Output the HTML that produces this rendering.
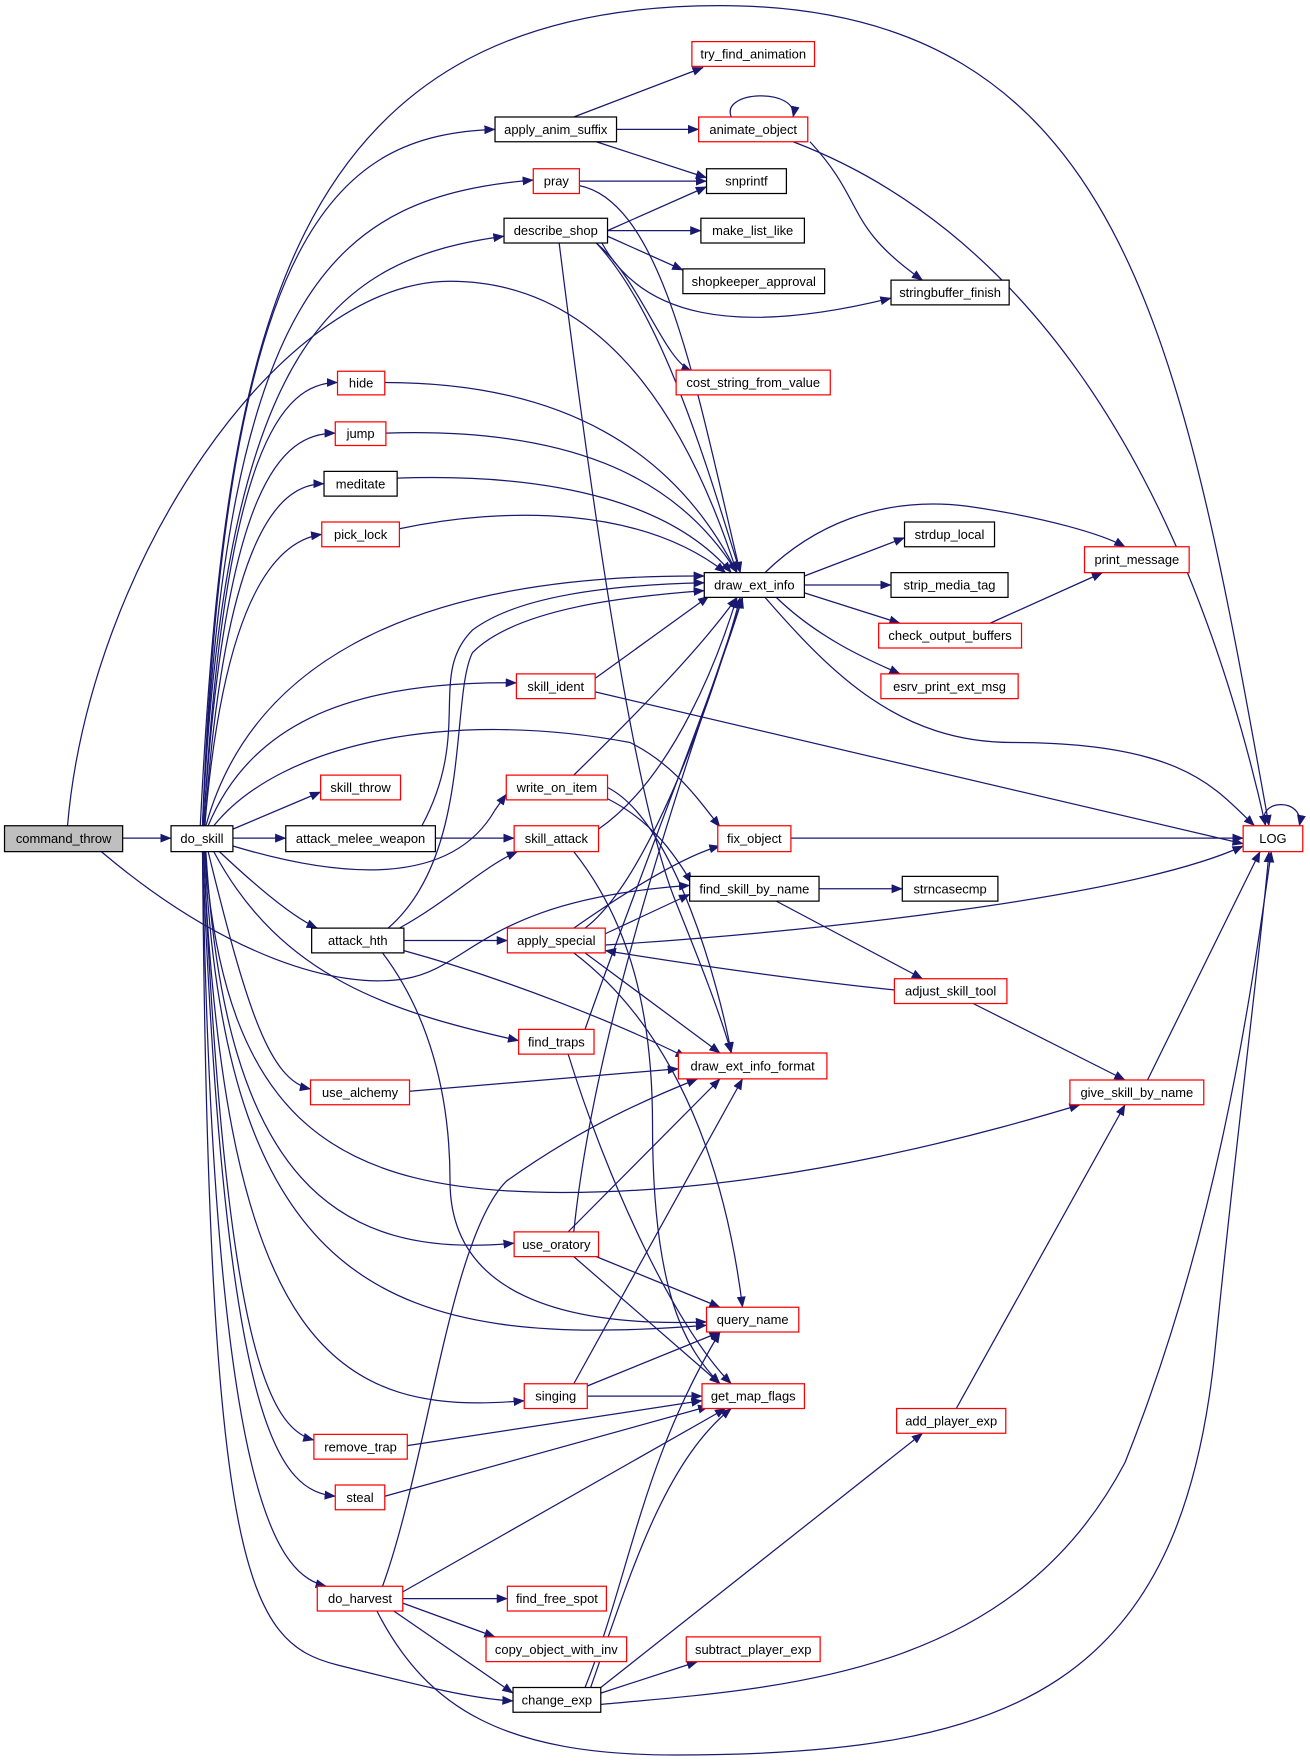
<!DOCTYPE html>
<html><head><meta charset="utf-8"><style>
html,body{margin:0;padding:0;background:#fff;}
svg{display:block;}
text{font-family:"Liberation Sans",sans-serif;font-size:11.5px;fill:#000;}
.e{fill:none;stroke:#191970;stroke-width:1.1;marker-end:url(#a);}
.b{fill:#fff;stroke:#000;stroke-width:1.1;}
.r{fill:#fff;stroke:#ff0000;stroke-width:1.1;}
</style></head><body>
<svg width="1310" height="1764" viewBox="0 0 1164.4 1568" xmlns="http://www.w3.org/2000/svg">
<defs><marker id="a" markerWidth="10" markerHeight="8" refX="9.5" refY="4" orient="auto" markerUnits="userSpaceOnUse"><path d="M0,0 L10,4 L0,8 z" fill="#191970"/></marker></defs>
<g>
<path class="e" d="M109,745 L152,745"/>
<path class="e" d="M60,734 C80,500 250,250 400,250 C550,250 620,400 655,509"/>
<path class="e" d="M90,757 C200,850 300,880 360,870 C420,860 430,800 613,787"/>
<path class="e" d="M178,734 C200,300 250,5 640,5 C1000,5 1050,300 1128,734"/>
<path class="e" d="M180,734 C200,200 300,120 440,115"/>
<path class="e" d="M180,734 C200,250 300,175 474,160"/>
<path class="e" d="M180,734 C200,300 300,230 448,210"/>
<path class="e" d="M181,734 C200,400 250,340 300,340"/>
<path class="e" d="M181,734 C200,430 250,385 298,385"/>
<path class="e" d="M182,734 C200,470 250,430 288,430"/>
<path class="e" d="M182,734 C200,520 250,480 286,475"/>
<path class="e" d="M183,734 C220,600 350,510 626,512"/>
<path class="e" d="M185,734 C220,650 300,605 459,607"/>
<path class="e" d="M190,734 C250,660 400,630 560,660 C600,680 620,710 640,735"/>
<path class="e" d="M207,737 L285,704"/>
<path class="e" d="M207,745 L254,745"/>
<path class="e" d="M207,752 C300,780 400,790 440,720 L450,706"/>
<path class="e" d="M195,757 C230,790 260,815 282,825"/>
<path class="e" d="M190,757 C250,870 350,900 461,925"/>
<path class="e" d="M185,757 C220,900 240,960 276,968"/>
<path class="e" d="M182,757 C200,1000 300,1060 500,1060 C700,1060 900,1000 960,982"/>
<path class="e" d="M183,757 C200,1050 300,1120 457,1105"/>
<path class="e" d="M182,757 C200,1150 350,1200 628,1178"/>
<path class="e" d="M181,757 C200,1200 300,1260 466,1245"/>
<path class="e" d="M181,757 C200,1200 240,1270 279,1280"/>
<path class="e" d="M180,757 C200,1280 250,1325 298,1330"/>
<path class="e" d="M180,757 C190,1350 250,1400 290,1410"/>
<path class="e" d="M180,757 C185,1400 220,1460 300,1480 C380,1500 420,1510 456,1512"/>
<path class="e" d="M335,1432 C380,1520 450,1560 600,1560 C900,1560 1050,1500 1080,1200 C1100,1000 1120,850 1128,757"/>
<path class="e" d="M375,734 C420,650 380,600 420,560 C460,530 540,520 626,518"/>
<path class="e" d="M387,745 L457,745"/>
<path class="e" d="M345,825 C420,760 400,620 420,580 C460,540 560,530 626,525"/>
<path class="e" d="M355,825 C400,800 430,770 460,757"/>
<path class="e" d="M359,836 L451,836"/>
<path class="e" d="M359,845 C450,870 550,910 610,940"/>
<path class="e" d="M340,847 C380,900 400,970 400,1050 C400,1150 500,1180 628,1175"/>
<path class="e" d="M510,689 C560,640 620,580 655,531"/>
<path class="e" d="M540,710 C580,730 600,760 615,785"/>
<path class="e" d="M540,700 C600,730 640,880 650,936"/>
<path class="e" d="M529,603 L630,530"/>
<path class="e" d="M529,615 L1105,750"/>
<path class="e" d="M532,737 C600,690 640,580 655,531"/>
<path class="e" d="M510,757 C560,820 580,900 580,1000 C580,1150 610,1200 640,1230"/>
<path class="e" d="M510,825 C560,790 610,760 640,752"/>
<path class="e" d="M538,830 L613,795"/>
<path class="e" d="M538,840 C700,830 1000,800 1105,752"/>
<path class="e" d="M520,847 L640,936"/>
<path class="e" d="M510,847 C580,900 640,1000 660,1162"/>
<path class="e" d="M520,825 C580,780 640,600 658,531"/>
<path class="e" d="M520,915 C560,800 640,600 660,531"/>
<path class="e" d="M505,937 C540,1050 600,1180 650,1230"/>
<path class="e" d="M540,205 L628,166"/>
<path class="e" d="M540,205 L623,205"/>
<path class="e" d="M540,210 L607,240"/>
<path class="e" d="M535,216 C570,280 650,300 792,265"/>
<path class="e" d="M530,216 C570,250 590,320 615,330"/>
<path class="e" d="M530,216 C590,280 630,420 658,509"/>
<path class="e" d="M497,216 C520,400 560,700 600,800 C620,850 640,900 650,936"/>
<path class="e" d="M510,104 L625,60"/>
<path class="e" d="M548,115 L621,115"/>
<path class="e" d="M530,126 L628,158"/>
<path class="e" d="M515,161 L628,161"/>
<path class="e" d="M515,165 C590,180 620,350 658,509"/>
<path class="e" d="M650,104 C640,80 710,78 705,104"/>
<path class="e" d="M705,126 C900,200 1050,400 1125,734"/>
<path class="e" d="M720,126 C770,180 750,200 820,249"/>
<path class="e" d="M342,340 C500,340 600,400 655,509"/>
<path class="e" d="M343,385 C500,380 600,420 655,509"/>
<path class="e" d="M353,425 C500,420 600,450 650,509"/>
<path class="e" d="M355,470 C450,450 570,450 645,509"/>
<path class="e" d="M680,509 C720,470 780,440 860,450 C930,460 980,475 1000,486"/>
<path class="e" d="M715,512 L804,478"/>
<path class="e" d="M715,520 L792,520"/>
<path class="e" d="M715,527 L800,554"/>
<path class="e" d="M690,531 C730,570 780,590 800,599"/>
<path class="e" d="M680,531 C740,600 800,660 900,660 C1050,660 1080,700 1115,734"/>
<path class="e" d="M880,554 L980,509"/>
<path class="e" d="M1125,734 C1115,710 1160,708 1155,734"/>
<path class="e" d="M703,745 L1105,745"/>
<path class="e" d="M728,790 L802,790"/>
<path class="e" d="M690,801 L820,870"/>
<path class="e" d="M795,880 C700,870 600,855 538,845"/>
<path class="e" d="M865,892 L1000,960"/>
<path class="e" d="M1020,960 L1120,757"/>
<path class="e" d="M364,970 L603,950"/>
<path class="e" d="M510,1095 C530,900 620,650 660,531"/>
<path class="e" d="M505,1095 L640,959"/>
<path class="e" d="M530,1117 L640,1162"/>
<path class="e" d="M510,1117 L640,1230"/>
<path class="e" d="M510,1230 L660,959"/>
<path class="e" d="M522,1232 L640,1184"/>
<path class="e" d="M522,1241 L624,1241"/>
<path class="e" d="M362,1285 L624,1245"/>
<path class="e" d="M342,1330 L630,1250"/>
<path class="e" d="M340,1410 C380,1300 400,1100 450,1050 C520,1000 580,975 620,959"/>
<path class="e" d="M358,1415 L645,1252"/>
<path class="e" d="M358,1421 L451,1421"/>
<path class="e" d="M358,1425 L440,1455"/>
<path class="e" d="M350,1432 L456,1505"/>
<path class="e" d="M520,1500 C560,1400 570,1300 640,1184"/>
<path class="e" d="M525,1500 C560,1400 590,1300 650,1252"/>
<path class="e" d="M534,1505 L620,1477"/>
<path class="e" d="M534,1500 L820,1274"/>
<path class="e" d="M534,1515 C700,1500 900,1490 1000,1300 C1080,1100 1110,900 1130,757"/>
<path class="e" d="M850,1252 L1000,982"/>
</g>
<g>
<rect x="4" y="734" width="105" height="23" fill="#bfbfbf" stroke="#000" stroke-width="1.1"/><text x="56.5" y="749.5" text-anchor="middle">command_throw</text>
<rect class="b" x="152" y="734" width="55" height="23"/><text x="179.5" y="749.5" text-anchor="middle">do_skill</text>
<rect class="r" x="300" y="330" width="42" height="21"/><text x="321" y="344.5" text-anchor="middle">hide</text>
<rect class="r" x="298" y="375" width="45" height="21"/><text x="320.5" y="389.5" text-anchor="middle">jump</text>
<rect class="b" x="288" y="419" width="65" height="22"/><text x="320.5" y="434" text-anchor="middle">meditate</text>
<rect class="r" x="286" y="464" width="69" height="22"/><text x="320.5" y="479" text-anchor="middle">pick_lock</text>
<rect class="r" x="285" y="689" width="71" height="22"/><text x="320.5" y="704" text-anchor="middle">skill_throw</text>
<rect class="b" x="254" y="734" width="133" height="23"/><text x="320.5" y="749.5" text-anchor="middle">attack_melee_weapon</text>
<rect class="b" x="277" y="825" width="82" height="22"/><text x="318" y="840" text-anchor="middle">attack_hth</text>
<rect class="r" x="276" y="960" width="88" height="22"/><text x="320" y="975" text-anchor="middle">use_alchemy</text>
<rect class="r" x="279" y="1275" width="83" height="22"/><text x="320.5" y="1290" text-anchor="middle">remove_trap</text>
<rect class="r" x="298" y="1320" width="44" height="22"/><text x="320" y="1335" text-anchor="middle">steal</text>
<rect class="r" x="282" y="1410" width="76" height="22"/><text x="320" y="1425" text-anchor="middle">do_harvest</text>
<rect class="b" x="440" y="104" width="108" height="22"/><text x="494" y="119" text-anchor="middle">apply_anim_suffix</text>
<rect class="r" x="474" y="150" width="41" height="22"/><text x="494.5" y="165" text-anchor="middle">pray</text>
<rect class="b" x="448" y="194" width="92" height="22"/><text x="494" y="209" text-anchor="middle">describe_shop</text>
<rect class="r" x="459" y="599" width="70" height="22"/><text x="494" y="614" text-anchor="middle">skill_ident</text>
<rect class="r" x="450" y="689" width="90" height="22"/><text x="495" y="704" text-anchor="middle">write_on_item</text>
<rect class="r" x="457" y="734" width="75" height="23"/><text x="494.5" y="749.5" text-anchor="middle">skill_attack</text>
<rect class="r" x="451" y="825" width="87" height="22"/><text x="494.5" y="840" text-anchor="middle">apply_special</text>
<rect class="r" x="461" y="915" width="67" height="22"/><text x="494.5" y="930" text-anchor="middle">find_traps</text>
<rect class="r" x="457" y="1095" width="75" height="22"/><text x="494.5" y="1110" text-anchor="middle">use_oratory</text>
<rect class="r" x="466" y="1230" width="56" height="22"/><text x="494" y="1245" text-anchor="middle">singing</text>
<rect class="r" x="451" y="1410" width="88" height="22"/><text x="495" y="1425" text-anchor="middle">find_free_spot</text>
<rect class="r" x="432" y="1455" width="125" height="22"/><text x="494.5" y="1470" text-anchor="middle">copy_object_with_inv</text>
<rect class="b" x="456" y="1500" width="78" height="22"/><text x="495" y="1515" text-anchor="middle">change_exp</text>
<rect class="r" x="615" y="37" width="109" height="22"/><text x="669.5" y="52" text-anchor="middle">try_find_animation</text>
<rect class="r" x="621" y="104" width="97" height="22"/><text x="669.5" y="119" text-anchor="middle">animate_object</text>
<rect class="b" x="628" y="150" width="71" height="22"/><text x="663.5" y="165" text-anchor="middle">snprintf</text>
<rect class="b" x="623" y="194" width="92" height="22"/><text x="669" y="209" text-anchor="middle">make_list_like</text>
<rect class="b" x="607" y="239" width="126" height="22"/><text x="670" y="254" text-anchor="middle">shopkeeper_approval</text>
<rect class="r" x="601" y="329" width="137" height="22"/><text x="669.5" y="344" text-anchor="middle">cost_string_from_value</text>
<rect class="b" x="626" y="509" width="89" height="22"/><text x="670.5" y="524" text-anchor="middle">draw_ext_info</text>
<rect class="r" x="638" y="734" width="65" height="23"/><text x="670.5" y="749.5" text-anchor="middle">fix_object</text>
<rect class="b" x="613" y="779" width="115" height="22"/><text x="670.5" y="794" text-anchor="middle">find_skill_by_name</text>
<rect class="r" x="603" y="936" width="132" height="23"/><text x="669" y="951.5" text-anchor="middle">draw_ext_info_format</text>
<rect class="r" x="628" y="1162" width="82" height="22"/><text x="669" y="1177" text-anchor="middle">query_name</text>
<rect class="r" x="624" y="1230" width="91" height="22"/><text x="669.5" y="1245" text-anchor="middle">get_map_flags</text>
<rect class="r" x="610" y="1455" width="119" height="22"/><text x="669.5" y="1470" text-anchor="middle">subtract_player_exp</text>
<rect class="b" x="792" y="249" width="105" height="22"/><text x="844.5" y="264" text-anchor="middle">stringbuffer_finish</text>
<rect class="b" x="804" y="464" width="80" height="22"/><text x="844" y="479" text-anchor="middle">strdup_local</text>
<rect class="b" x="792" y="509" width="104" height="22"/><text x="844" y="524" text-anchor="middle">strip_media_tag</text>
<rect class="r" x="781" y="554" width="127" height="22"/><text x="844.5" y="569" text-anchor="middle">check_output_buffers</text>
<rect class="r" x="783" y="599" width="122" height="22"/><text x="844" y="614" text-anchor="middle">esrv_print_ext_msg</text>
<rect class="b" x="802" y="779" width="85" height="22"/><text x="844.5" y="794" text-anchor="middle">strncasecmp</text>
<rect class="r" x="795" y="870" width="100" height="22"/><text x="845" y="885" text-anchor="middle">adjust_skill_tool</text>
<rect class="r" x="797" y="1252" width="97" height="22"/><text x="845.5" y="1267" text-anchor="middle">add_player_exp</text>
<rect class="r" x="964" y="486" width="93" height="23"/><text x="1010.5" y="501.5" text-anchor="middle">print_message</text>
<rect class="r" x="951" y="960" width="119" height="22"/><text x="1010.5" y="975" text-anchor="middle">give_skill_by_name</text>
<rect class="r" x="1105" y="734" width="53" height="23"/><text x="1131.5" y="749.5" text-anchor="middle">LOG</text>
</g>
</svg>
</body></html>
